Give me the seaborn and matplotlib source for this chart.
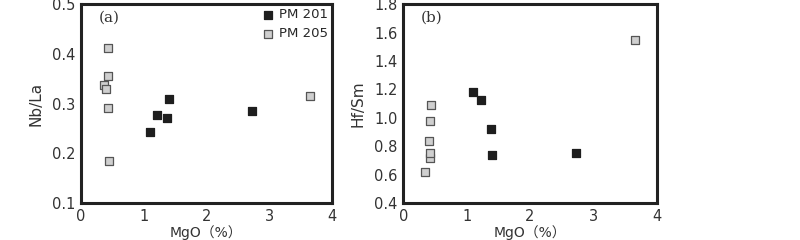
import pandas as pd
import seaborn as sns
import matplotlib.pyplot as plt

sns.set_theme(style='white')
plt.rcParams['font.family'] = ['DejaVu Sans', 'Noto Sans CJK SC']

# PM 201 / PM 205 samples
mgo_201 = [1.10, 1.22, 1.38, 1.40, 2.72]
nbla_201 = [0.243, 0.278, 0.270, 0.310, 0.285]
hfsm_201 = [1.18, 1.125, 0.92, 0.735, 0.75]

mgo_205_a = [0.37, 0.40, 0.43, 0.43, 0.44, 0.45, 3.65]
nbla_205 = [0.338, 0.330, 0.412, 0.356, 0.291, 0.185, 0.316]
mgo_205_b = [0.35, 0.40, 0.42, 0.43, 0.43, 0.44, 3.65]
hfsm_205 = [0.62, 0.84, 0.72, 0.755, 0.975, 1.09, 1.55]

groups = ['PM 201', 'PM 205']

df_a = pd.DataFrame({
    'MgO': mgo_201 + mgo_205_a,
    'Nb/La': nbla_201 + nbla_205,
    'group': [groups[0]] * len(mgo_201) + [groups[1]] * len(mgo_205_a)})
df_b = pd.DataFrame({
    'MgO': mgo_201 + mgo_205_b,
    'Hf/Sm': hfsm_201 + hfsm_205,
    'group': [groups[0]] * len(mgo_201) + [groups[1]] * len(mgo_205_b)})

palette = {'PM 201': '#1e1e1e', 'PM 205': '#cfcfcf'}

fig = plt.figure(figsize=(8, 2.4), dpi=100)
ax1 = fig.add_axes([0.101, 0.154, 0.314, 0.829])
ax2 = fig.add_axes([0.504, 0.154, 0.317, 0.829])


def draw(ax, df, ycol, ylim, yticks, tag, legend):
    for g in groups:
        sub = df[df.group == g]
        sns.scatterplot(data=sub, x='MgO', y=ycol, ax=ax, marker='s', s=36,
                        color=palette[g], edgecolor='#555555' if g == 'PM 205' else '#1e1e1e',
                        linewidth=0.9, label=g if legend else None, zorder=3)
    ax.set_xlim(0, 4)
    ax.set_ylim(*ylim)
    ax.set_xticks([0, 1, 2, 3, 4])
    ax.set_yticks(yticks)
    ax.set_yticklabels([f'{v:.1f}' for v in yticks])
    for sp in ax.spines.values():
        sp.set_linewidth(2.2)
        sp.set_color('#222222')
    ax.tick_params(direction='out', length=3, width=1.5, color='#222222',
                   labelsize=10.5, colors='#333333', pad=1)
    ax.tick_params(axis='both', which='both', labelcolor='#333333')
    ax.set_xlabel('MgO（%）', fontsize=10, color='#333333', labelpad=1)
    ax.set_ylabel(ycol, fontsize=11, color='#333333', labelpad=6)
    ax.text(0.07, 0.93, tag, transform=ax.transAxes, family='serif',
            fontsize=11, color='#333333', va='center')
    if legend:
        ax.legend(loc='upper right', frameon=False, fontsize=9.5,
                  handlelength=0.8, handletextpad=0.4, borderaxespad=0.1,
                  labelspacing=0.45, borderpad=0.2, markerscale=1.0)
    elif ax.get_legend() is not None:
        ax.get_legend().remove()


draw(ax1, df_a, 'Nb/La', (0.1, 0.5), [0.1, 0.2, 0.3, 0.4, 0.5], '(a)', True)
draw(ax2, df_b, 'Hf/Sm', (0.4, 1.8), [0.4, 0.6, 0.8, 1.0, 1.2, 1.4, 1.6, 1.8], '(b)', False)

fig.savefig('out.png', dpi=100)
